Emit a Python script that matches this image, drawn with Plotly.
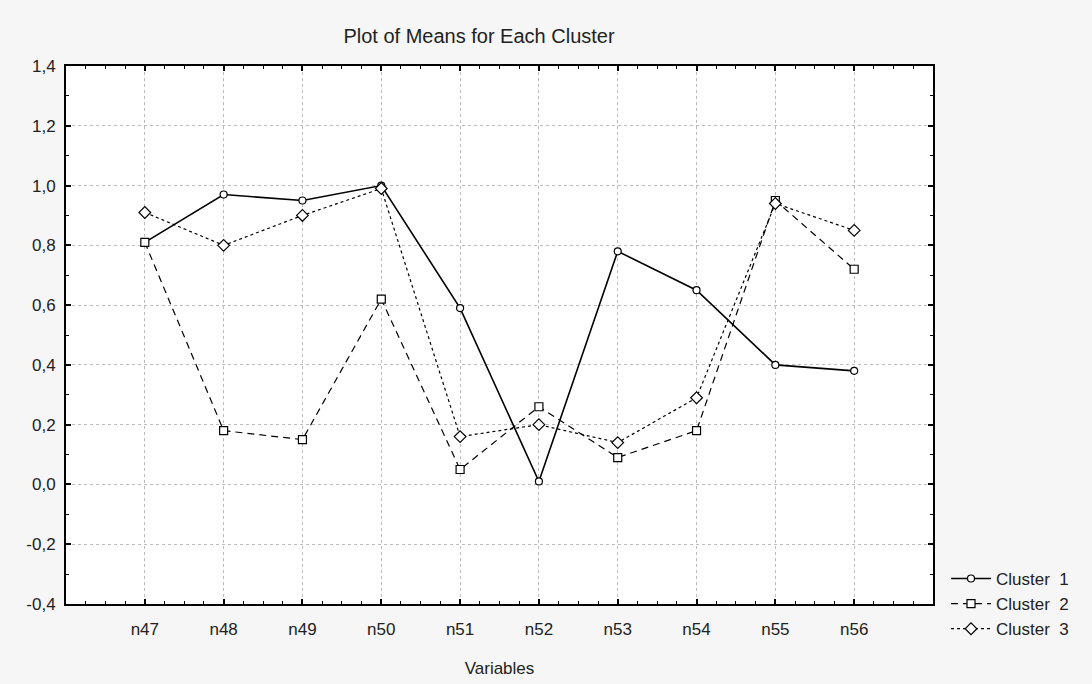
import plotly.graph_objects as go

categories = ["n47", "n48", "n49", "n50", "n51", "n52", "n53", "n54", "n55", "n56"]
cluster1 = [0.81, 0.97, 0.95, 1.00, 0.59, 0.01, 0.78, 0.65, 0.40, 0.38]
cluster2 = [0.81, 0.18, 0.15, 0.62, 0.05, 0.26, 0.09, 0.18, 0.95, 0.72]
cluster3 = [0.91, 0.80, 0.90, 0.99, 0.16, 0.20, 0.14, 0.29, 0.94, 0.85]
series_names = ["Cluster\u00a0\u00a01", "Cluster\u00a0\u00a02", "Cluster\u00a0\u00a03"]
y_tick_values = [-0.4, -0.2, 0.0, 0.2, 0.4, 0.6, 0.8, 1.0, 1.2, 1.4]
y_tick_labels = ["-0,4", "-0,2", "0,0", "0,2", "0,4", "0,6", "0,8", "1,0", "1,2", "1,4"]

xpos = list(range(1, len(categories) + 1))
FONT = "Liberation Sans, Arial, sans-serif"

fig = go.Figure()
styles = [
    (cluster1, "solid", "circle", 7, 1.6),
    (cluster2, "7px,5px", "square", 8, 1.2),
    (cluster3, "3px,3px", "diamond", 9, 1.2),
]
for (vals, dash, sym, msize, lw), name in zip(styles, series_names):
    fig.add_trace(go.Scatter(
        x=xpos, y=vals, name=name, mode="lines+markers",
        line=dict(color="black", width=lw, dash=dash),
        marker=dict(symbol=sym, size=msize, color="white",
                    line=dict(color="black", width=1.2)),
    ))

axis_common = dict(
    showline=True, linecolor="black", linewidth=2, mirror="ticks",
    ticks="inside", ticklen=5, tickwidth=1.5, tickcolor="black",
    showgrid=True, gridcolor="#bcbcbc", griddash="dot", gridwidth=1,
    zeroline=False, automargin=False,
    tickfont=dict(family=FONT, size=17, color="#222"),
)

fig.update_xaxes(
    **axis_common,
    range=[0, len(categories) + 1],
    tickmode="array", tickvals=xpos, ticktext=categories,
    ticklabelstandoff=9,
    minor=dict(dtick=0.25, tick0=0, ticks="inside", ticklen=3,
               tickcolor="black", tickwidth=1.2, showgrid=False),
    title=dict(text="Variables", font=dict(family=FONT, size=17, color="#222"),
               standoff=24),
)
fig.update_yaxes(
    **axis_common,
    range=[-0.4, 1.4],
    tickmode="array", tickvals=y_tick_values, ticktext=y_tick_labels,
    ticklabelstandoff=5,
    minor=dict(dtick=0.1, tick0=0, ticks="inside", ticklen=3,
               tickcolor="black", tickwidth=1.2, showgrid=False),
)

fig.update_layout(
    width=1092, height=684,
    margin=dict(l=66, r=159, t=66, b=80),
    paper_bgcolor="#f6f6f6", plot_bgcolor="white",
    title=dict(text="Plot of Means for Each Cluster",
               font=dict(family=FONT, size=20, color="#222"),
               x=(479 - 66) / 867, xref="paper", xanchor="center",
               y=1 - 36 / 684, yref="container", yanchor="middle"),
    legend=dict(x=1.015, xanchor="left", y=0.08, yanchor="top",
                bgcolor="rgba(0,0,0,0)", borderwidth=0,
                font=dict(family=FONT, size=17, color="#222"),
                tracegroupgap=0, itemwidth=40),
    showlegend=True,
)

fig.write_html("out.html")
